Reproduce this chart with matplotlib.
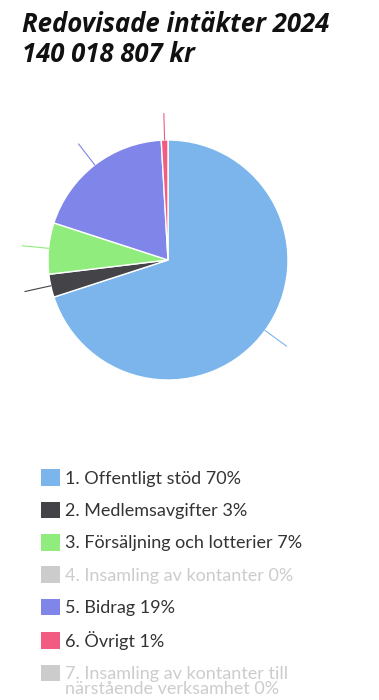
import matplotlib
matplotlib.use("Agg")
import matplotlib.pyplot as plt
from matplotlib.patches import Patch
import numpy as np

plt.rcParams["font.family"] = ["Lato", "DejaVu Sans"]

# data (share of total, %)
title = "Redovisade intäkter 2024"
subtitle = "140 018 807 kr"
categories = [
    "1. Offentligt stöd 70%",
    "2. Medlemsavgifter 3%",
    "3. Försäljning och lotterier 7%",
    "4. Insamling av kontanter 0%",
    "5. Bidrag 19%",
    "6. Övrigt 1%",
    "7. Insamling av kontanter till",
]
last_label_cont = "närstående verksamhet 0%"
values = [70.0, 3.1, 6.9, 0.0, 19.1, 0.9, 0.0]
visible = [True, True, True, False, True, True, False]
colors = ["#7cb5ec", "#434348", "#90ed7d", "#cccccc", "#8085e9", "#f15c80", "#cccccc"]

fig = plt.figure(figsize=(3.79, 7.0), dpi=100)

for txt, y in [(title, 32), (subtitle, 62)]:
    fig.text(22 / 379, 1 - y / 700, txt, fontsize=18.5, fontweight="bold",
             fontstyle="italic", color="#111111", ha="left", va="baseline",
             family=["Open Sans", "DejaVu Sans"])

# pie
ax = fig.add_axes([(168 - 120) / 379, (440 - 120) / 700, 240 / 379, 240 / 700])
vals = [v for v, s in zip(values, visible) if s]
cols = [c for c, s in zip(colors, visible) if s]
ax.pie(vals, colors=cols, startangle=90, counterclock=False, radius=1.0,
       wedgeprops=dict(edgecolor="white", linewidth=1.0))
ax.set_xlim(-1, 1)
ax.set_ylim(-1, 1)
ax.set_aspect("equal")
ax.axis("off")

# leader lines (no labels shown)
total = sum(vals)
cum = 0.0
for v, c in zip(vals, cols):
    mid = 90 - 360 * (cum + v / 2) / total
    cum += v
    a = np.deg2rad(mid)
    ax.plot([np.cos(a), 1.22 * np.cos(a)], [np.sin(a), 1.22 * np.sin(a)],
            color=c, lw=0.8, clip_on=False)

# legend
handles = [Patch(facecolor=c, edgecolor="none") for c in colors]
leg = fig.legend(handles, categories, loc="upper left",
                 bbox_to_anchor=(34 / 379, 1 - 462 / 700), frameon=False,
                 fontsize=13, handlelength=1.05, handleheight=1.05,
                 handletextpad=0.28, labelspacing=0.82, borderaxespad=0)
for txt, s in zip(leg.get_texts(), visible):
    txt.set_color("#333333" if s else "#cccccc")

# wrapped second line of the last legend entry
last = leg.get_texts()[-1]
fig.text(0, 0, "")
fig.canvas.draw()
ax.annotate(last_label_cont, xy=(0, 0), xycoords=last,
            xytext=(0, -10.8), textcoords="offset points",
            ha="left", va="bottom", fontsize=13, color=last.get_color(),
            annotation_clip=False)

fig.savefig("out.png", dpi=100)
